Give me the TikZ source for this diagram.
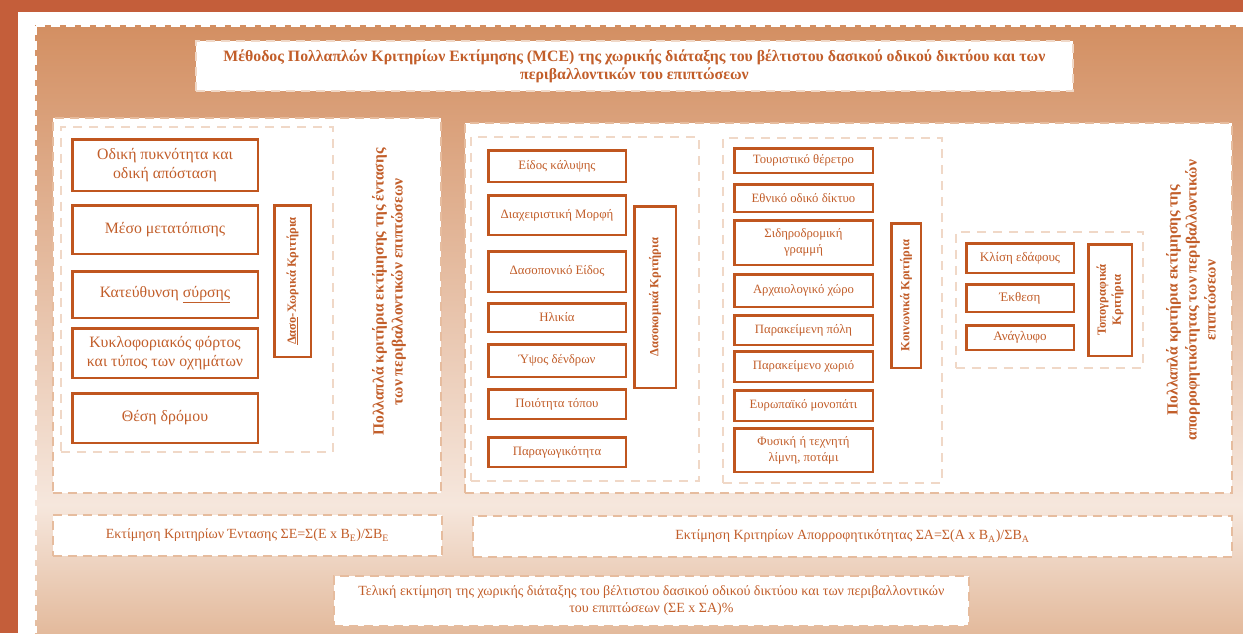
\documentclass[tikz,border=0pt]{standalone}
\usepackage{fontspec}
\setmainfont{Liberation Serif}
\usetikzlibrary{positioning}

\definecolor{frame}{HTML}{C45E3A}
\definecolor{rust}{HTML}{C0561F}
\definecolor{ink}{HTML}{C25E2A}
\definecolor{peach}{HTML}{E6BC9E}
\definecolor{pale}{HTML}{F0D8C7}
\definecolor{bgtop}{HTML}{D38F62}
\definecolor{bgmid}{HTML}{F6E7DD}
\definecolor{bgbot}{HTML}{E3BA9C}

\begin{document}
\begin{tikzpicture}[x=1pt,y=-1pt]
\tikzstyle{crit} = [draw=rust, line width=2.5pt, fill=white, text=ink, align=center, inner sep=2pt]
\tikzstyle{group} = [draw=rust, line width=2.5pt, fill=white, text=ink, rotate=90, align=center, inner sep=1pt, font=\bfseries\fontsize{12.5}{15}\selectfont]
\tikzstyle{panel} = [draw=peach, line width=1.8pt, dash pattern=on 9pt off 6pt, fill=white, anchor=north west, text=ink, align=center]
\tikzstyle{zone} = [draw=pale, line width=1.8pt, dash pattern=on 9pt off 7pt, anchor=north west]
\tikzstyle{lcol} = [crit, minimum width=185.5pt, font=\fontsize{15.8}{19}\selectfont]
\tikzstyle{fcol} = [crit, minimum width=137.5pt, font=\fontsize{12.8}{16}\selectfont]
\tikzstyle{scol} = [crit, minimum width=138.5pt, font=\fontsize{12.7}{16}\selectfont]
\tikzstyle{tcol} = [crit, minimum width=107.5pt, font=\fontsize{13}{15}\selectfont]
\tikzstyle{side} = [rotate=90, text=ink, align=center, font=\bfseries\fontsize{15.5}{19}\selectfont]
    \useasboundingbox (0,0) rectangle (1243,633);
    \fill[frame] (0,0) rectangle (1243,633);
    \fill[white] (18,12) rectangle (1243,633);
    \shade[top color=bgtop, bottom color=bgmid] (35,25) rectangle (1243,505);
    \shade[top color=bgmid, bottom color=bgbot] (35,505) rectangle (1243,633);
    \draw[white, line width=1.5pt, dash pattern=on 9pt off 6pt] (36,26) -- (1243,26) (36,26) -- (36,633);

    \node[panel, draw=pale, minimum width=877pt, minimum height=50pt, font=\bfseries\fontsize{15.8}{18}\selectfont] (Title) at (195,40)
        {Μέθοδος Πολλαπλών Κριτηρίων Εκτίμησης (MCE) της χωρικής διάταξης του βέλτιστου δασικού οδικού δικτύου και των\\περιβαλλοντικών του επιπτώσεων};

    \node[panel, minimum width=388pt, minimum height=375pt] (IntensityPanel) at (52,117) {};
    \node[panel, minimum width=767pt, minimum height=370pt] (AbsorbPanel) at (464,122) {};
    \node[zone, minimum width=272pt, minimum height=325pt] (SpatialZone) at (60,126) {};
    \node[zone, minimum width=228pt, minimum height=344pt] (ForestZone) at (470,136) {};
    \node[zone, minimum width=219pt, minimum height=345pt] (SocialZone) at (722,137) {};
    \node[zone, minimum width=187pt, minimum height=136pt] (TopoZone) at (955,231) {};

    \coordinate (SpatialTop) at (71,138);
    \node[lcol, minimum height=51.5pt, anchor=north west] (Density) at (SpatialTop) {Οδική πυκνότητα και\\οδική απόσταση};
    \node[lcol, minimum height=48.5pt, below=12pt of Density] (Transfer) {Μέσο μετατόπισης};
    \node[lcol, minimum height=46.5pt, below=15pt of Transfer] (Skidding) {Κατεύθυνση \underline{σύρσης}};
    \node[lcol, minimum height=49.5pt, below=8pt of Skidding] (Traffic) {Κυκλοφοριακός φόρτος\\και τύπος των οχημάτων};
    \node[lcol, minimum height=49.5pt, below=13pt of Traffic] (RoadPos) {Θέση δρόμου};
    \node[group, minimum width=151.5pt, minimum height=36.5pt] (SpatialCrit) at (292.5,281) {\underline{Δασο}-Χωρικά Κριτήρια};
    \node[side] (IntensityLabel) at (389,292) {Πολλαπλά κριτήρια εκτίμησης της έντασης\\των περιβαλλοντικών επιπτώσεων};

    \coordinate (ForestTop) at (487,149);
    \node[fcol, minimum height=31.5pt, anchor=north west] (Cover) at (ForestTop) {Είδος κάλυψης};
    \node[fcol, minimum height=39.5pt, below=11pt of Cover] (Manage) {Διαχειριστική Μορφή};
    \node[fcol, minimum height=40.5pt, below=14pt of Manage] (Species) {Δασοπονικό Είδος};
    \node[fcol, minimum height=28.5pt, below=9pt of Species] (Age) {Ηλικία};
    \node[fcol, minimum height=32.5pt, below=10pt of Age] (TreeHeight) {Ύψος δένδρων};
    \node[fcol, minimum height=29.5pt, below=10pt of TreeHeight] (SiteQuality) {Ποιότητα τόπου};
    \node[fcol, minimum height=29.5pt, below=16pt of SiteQuality] (Yield) {Παραγωγικότητα};
    \node[group, minimum width=181.5pt, minimum height=41.5pt] (ForestCrit) at (655,297) {Δασοκομικά Κριτήρια};

    \coordinate (SocialTop) at (733,147);
    \node[scol, minimum height=24.5pt, anchor=north west] (Resort) at (SocialTop) {Τουριστικό θέρετρο};
    \node[scol, minimum height=27.5pt, below=9pt of Resort] (National) {Εθνικό οδικό δίκτυο};
    \node[scol, minimum height=44.5pt, below=6pt of National] (Railway) {Σιδηροδρομική\\γραμμή};
    \node[scol, minimum height=32.5pt, below=7pt of Railway] (Archaeo) {Αρχαιολογικό χώρο};
    \node[scol, minimum height=29.5pt, below=6pt of Archaeo] (Town) {Παρακείμενη πόλη};
    \node[scol, minimum height=30.5pt, below=4pt of Town] (Village) {Παρακείμενο χωριό};
    \node[scol, minimum height=30.5pt, below=6pt of Village] (Trail) {Ευρωπαϊκό μονοπάτι};
    \node[scol, minimum height=43.5pt, below=5pt of Trail] (Water) {Φυσική ή τεχνητή\\λίμνη, ποτάμι};
    \node[group, minimum width=144.5pt, minimum height=29.5pt] (SocialCrit) at (906,295.5) {Κοινωνικά Κριτήρια};

    \coordinate (TopoTop) at (965,242);
    \node[tcol, minimum height=29.5pt, anchor=north west] (Slope) at (TopoTop) {Κλίση εδάφους};
    \node[tcol, minimum height=27.5pt, below=9pt of Slope] (Aspect) {Έκθεση};
    \node[tcol, minimum height=24.5pt, below=11pt of Aspect] (Relief) {Ανάγλυφο};
    \node[group, minimum width=111.5pt, minimum height=43.5pt] (TopoCrit) at (1110,300) {Τοπογραφικά\\Κριτήρια};
    \node[side] (AbsorbLabel) at (1191,300) {Πολλαπλά κριτήρια εκτίμησης της\\απορροφητικότητας των περιβαλλοντικών\\επιπτώσεων};

    \node[panel, minimum width=389pt, minimum height=41pt, font=\fontsize{14}{17}\selectfont] (IntensitySum) at (52,514)
        {Εκτίμηση Κριτηρίων Έντασης ΣΕ=Σ(Ε x Β\textsubscript{Ε})/ΣΒ\textsubscript{Ε}};
    \node[panel, minimum width=759pt, minimum height=41pt, font=\fontsize{14}{17}\selectfont] (AbsorbSum) at (472,515)
        {Εκτίμηση Κριτηρίων Απορροφητικότητας ΣΑ=Σ(Α x Β\textsubscript{Α})/ΣΒ\textsubscript{Α}};
    \node[panel, minimum width=635pt, minimum height=50pt, font=\fontsize{14}{17}\selectfont] (FinalSum) at (333,575)
        {Τελική εκτίμηση της χωρικής διάταξης του βέλτιστου δασικού οδικού δικτύου και των περιβαλλοντικών\\του επιπτώσεων (ΣΕ x ΣΑ)\%};
\end{tikzpicture}
\end{document}
